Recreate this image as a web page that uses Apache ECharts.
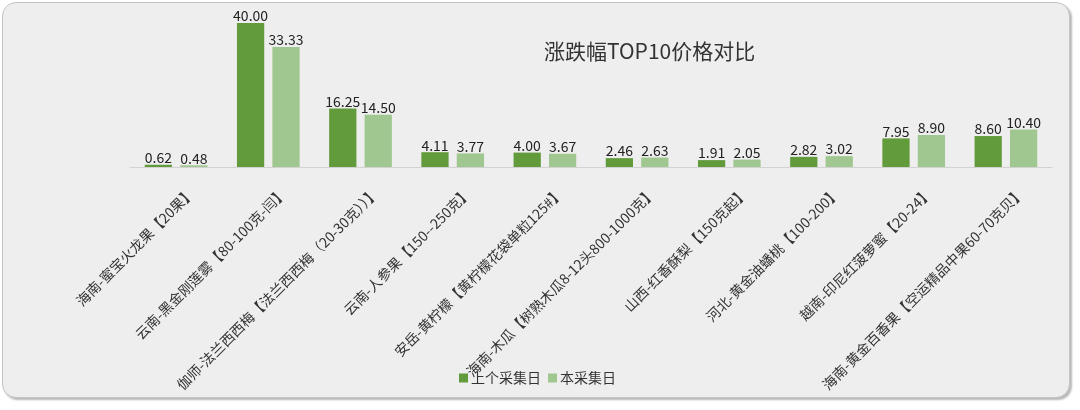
<!DOCTYPE html>
<html>
<head>
<meta charset="utf-8">
<script src="https://cdn.jsdelivr.net/npm/echarts@6/dist/echarts.min.js"></script>
<style>
  html, body { margin: 0; padding: 0; background: #fff; }
  #frame {
    position: absolute; left: 2px; top: 2px; width: 1066px; height: 394px;
    background: #eeeeee; border: 1px solid #c4c4c4; border-radius: 14px;
    box-shadow: 2px 2px 2px rgba(0, 0, 0, 0.28);
  }
  #chart { position: absolute; left: 0; top: 0; width: 1080px; height: 410px; }
</style>
</head>
<body>
<div id="frame"></div>
<div id="chart"></div>
<script>
  // 品类
  const categories = [
    '海南-蜜宝火龙果【20果】',
    '云南-黑金刚莲雾【80-100克-闫】',
    '伽师-法兰西西梅【法兰西西梅（20-30克））】',
    '云南-人参果【150--250克】',
    '安岳-黄柠檬【黄柠檬花袋单粒125#】',
    '海南-木瓜【树熟木瓜8-12头800-1000克】',
    '山西-红香酥梨【150克起】',
    '河北-黄金油蟠桃【100-200】',
    '越南-印尼红菠萝蜜【20-24】',
    '海南-黄金百香果【空运精品中果60-70克贝】',
  ];
  const lastDay = [0.62, 40.00, 16.25, 4.11, 4.00, 2.46, 1.91, 2.82, 7.95, 8.60]; // 上个采集日
  const thisDay = [0.48, 33.33, 14.50, 3.77, 3.67, 2.63, 2.05, 3.02, 8.90, 10.40]; // 本采集日

  const font = '"Noto Sans CJK SC", "Noto Sans", sans-serif';
  const valueLabel = {
    show: true,
    position: 'top',
    distance: 0,
    color: '#222',
    fontSize: 14,
    fontFamily: font,
    formatter: (p) => p.value.toFixed(2),
  };

  const myChart = echarts.init(document.getElementById('chart'));
  myChart.setOption({
    backgroundColor: 'transparent',
    animation: false,
    title: {
      text: '涨跌幅TOP10价格对比',
      left: 539,
      top: 36,
      textStyle: { color: '#333', fontSize: 21, fontWeight: 'normal', fontFamily: font },
    },
    legend: {
      left: 454,
      top: 366,
      itemWidth: 9,
      itemHeight: 9,
      itemGap: 7,
      icon: 'rect',
      textStyle: { color: '#333', fontSize: 14, fontFamily: font, padding: [0, 0, 0, -2] },
      data: ['上个采集日', '本采集日'],
    },
    grid: [
      { left: 130, right: 28, top: 23, bottom: 243 },
      // 标签用，略向右错开
      { left: 146, right: 12, top: 23, bottom: 243 },
    ],
    xAxis: [
      {
        type: 'category',
        data: categories,
        axisLine: { lineStyle: { color: '#d2d2d2', width: 1 } },
        axisTick: { show: false },
        axisLabel: { show: false },
      },
      {
        type: 'category',
        gridIndex: 1,
        data: categories,
        axisLine: { show: false },
        axisTick: { show: false },
        axisLabel: {
          interval: 0,
          rotate: 45,
          margin: 23,
          color: '#333',
          fontSize: 14,
          fontFamily: font,
        },
      },
    ],
    yAxis: [
      { type: 'value', min: 0, max: 40, show: false },
      { type: 'value', gridIndex: 1, min: 0, max: 40, show: false },
    ],
    series: [
      {
        name: '上个采集日',
        type: 'bar',
        data: lastDay,
        barGap: '30%',
        barCategoryGap: '32%',
        itemStyle: { color: '#629b3c' },
        label: valueLabel,
      },
      {
        name: '本采集日',
        type: 'bar',
        data: thisDay,
        itemStyle: { color: '#a0c78f' },
        label: valueLabel,
      },
    ],
  });
</script>
</body>
</html>
